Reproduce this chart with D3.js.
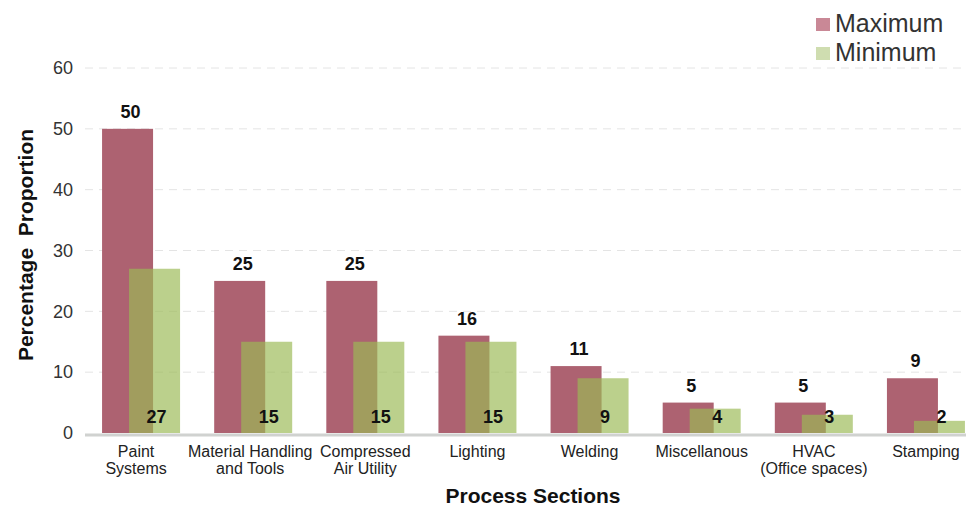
<!DOCTYPE html>
<html>
<head>
<meta charset="utf-8">
<script src="https://cdn.jsdelivr.net/npm/d3@7"></script>
<style>
  body { margin: 0; background: #fff; }
  text { font-family: "Liberation Sans", Arial, sans-serif; }
</style>
</head>
<body>
<svg id="chart" width="966" height="509"></svg>
<script>
var categories = [
    ["Paint", "Systems"],
    ["Material Handling", "and Tools"],
    ["Compressed", "Air Utility"],
    ["Lighting"],
    ["Welding"],
    ["Miscellanous"],
    ["HVAC", "(Office spaces)"],
    ["Stamping"]
];
var maxValues = [50, 25, 25, 16, 11, 5, 5, 9];
var minValues = [27, 15, 15, 15, 9, 4, 3, 2];
var yTicks = [0, 10, 20, 30, 40, 50, 60];
var seriesNames = ["Maximum", "Minimum"];

var margin = {top: 68, left: 85, right: -16, bottom: 75};
var width = 966, height = 509;
var plotBottom = 433;

var svg = d3.select("#chart");

var xScale = d3.scaleBand()
    .domain(d3.range(categories.length))
    .range([margin.left, width - margin.right])
    .paddingInner(0)
    .paddingOuter(0);

var yScale = d3.scaleLinear()
    .domain([0, 60])
    .range([plotBottom, margin.top]);

var barW = 51, shift = 27;
var pairOffset = (xScale.bandwidth() - (barW + shift)) / 2;

// gridlines
svg.append("g")
    .selectAll("line")
    .data(yTicks.slice(1))
    .enter()
    .append("line")
    .attr("x1", margin.left)
    .attr("x2", width)
    .attr("y1", function(d){ return yScale(d); })
    .attr("y2", function(d){ return yScale(d); })
    .style("stroke", "#e4e4e4")
    .style("stroke-width", 1)
    .style("stroke-dasharray", "8,6");

// y tick labels
svg.append("g")
    .selectAll("text")
    .data(yTicks)
    .enter()
    .append("text")
    .attr("x", 73)
    .attr("y", function(d){ return yScale(d); })
    .attr("dy", "0.35em")
    .attr("text-anchor", "end")
    .style("font-size", "18px")
    .style("fill", "#333")
    .text(function(d){ return d; });

// maximum bars
svg.append("g")
    .selectAll("rect")
    .data(maxValues)
    .enter()
    .append("rect")
    .attr("x", function(d, i){ return xScale(i) + pairOffset; })
    .attr("y", function(d){ return yScale(d); })
    .attr("width", barW)
    .attr("height", function(d){ return plotBottom - yScale(d); })
    .style("fill", "#ad6271");

// minimum bars (semi transparent, overlap gives olive)
svg.append("g")
    .selectAll("rect")
    .data(minValues)
    .enter()
    .append("rect")
    .attr("x", function(d, i){ return xScale(i) + pairOffset + shift; })
    .attr("y", function(d){ return yScale(d); })
    .attr("width", barW)
    .attr("height", function(d){ return plotBottom - yScale(d); })
    .style("fill", "rgb(155,186,86)")
    .style("fill-opacity", 0.68);

// x axis line
svg.append("line")
    .attr("x1", margin.left)
    .attr("x2", width)
    .attr("y1", plotBottom + 2)
    .attr("y2", plotBottom + 2)
    .style("stroke", "#d0d2d0")
    .style("stroke-width", 3);

// value labels
svg.append("g")
    .selectAll("text")
    .data(maxValues)
    .enter()
    .append("text")
    .attr("x", function(d, i){ return xScale(i) + pairOffset + barW / 2 + 3; })
    .attr("y", function(d){ return yScale(d) - 11; })
    .attr("text-anchor", "middle")
    .style("font-size", "18px")
    .style("font-weight", "bold")
    .style("fill", "#111")
    .text(function(d){ return d; });

svg.append("g")
    .selectAll("text")
    .data(minValues)
    .enter()
    .append("text")
    .attr("x", function(d, i){ return xScale(i) + pairOffset + shift + barW / 2 + 2; })
    .attr("y", 423)
    .attr("text-anchor", "middle")
    .style("font-size", "18px")
    .style("font-weight", "bold")
    .style("fill", "#111")
    .text(function(d){ return d; });

// category labels
var catShift = [-5, -3, 0, 0, 0, 0, 0, 0];
var catG = svg.append("g")
    .selectAll("text")
    .data(categories)
    .enter()
    .append("text")
    .attr("x", function(d, i){ return xScale(i) + xScale.bandwidth() / 2 + catShift[i]; })
    .attr("y", 457)
    .attr("text-anchor", "middle")
    .style("font-size", "16px")
    .style("fill", "#222");

catG.selectAll("tspan")
    .data(function(d){ return d; })
    .enter()
    .append("tspan")
    .attr("x", function(){ return d3.select(this.parentNode).attr("x"); })
    .attr("dy", function(d, i){ return i === 0 ? 0 : 17; })
    .text(function(d){ return d; });

// axis titles
svg.append("text")
    .attr("x", 533)
    .attr("y", 503)
    .attr("text-anchor", "middle")
    .style("font-size", "21px")
    .style("font-weight", "bold")
    .style("fill", "#111")
    .text("Process Sections");

svg.append("text")
    .attr("transform", "translate(33, 245) rotate(-90)")
    .attr("text-anchor", "middle")
    .style("font-size", "21px")
    .style("font-weight", "bold")
    .style("fill", "#111")
    .text("Percentage\u00a0\u00a0Proportion");

// legend
var legendColors = ["#c98896", "#cfddb0"];
var legend = svg.append("g")
    .selectAll("g")
    .data(seriesNames)
    .enter()
    .append("g")
    .attr("transform", function(d, i){ return "translate(816," + (18 + i * 29) + ")"; });

legend.append("rect")
    .attr("width", 14)
    .attr("height", 13)
    .style("fill", function(d, i){ return legendColors[i]; });

legend.append("text")
    .attr("x", 19)
    .attr("y", 14)
    .style("font-size", "25px")
    .style("fill", "#333")
    .text(function(d){ return d; });
</script>
</body>
</html>
